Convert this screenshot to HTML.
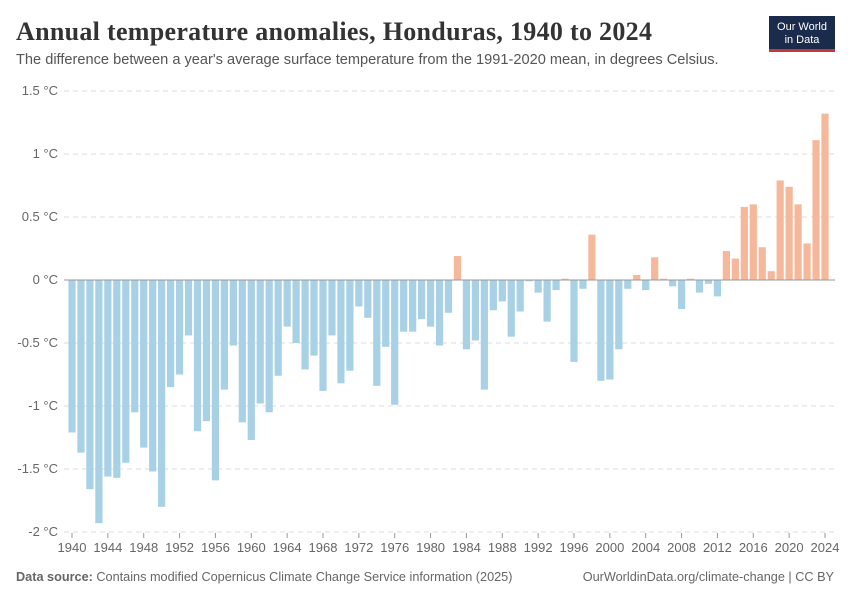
<!DOCTYPE html>
<html><head><meta charset="utf-8">
<style>
body{margin:0;background:#fff;font-family:"Liberation Sans",sans-serif;}
#wrap{position:relative;width:850px;height:600px;overflow:hidden;}
.title{position:absolute;left:16px;top:17px;font-family:"Liberation Serif",serif;font-size:26px;font-weight:bold;color:#333;letter-spacing:0.3px;}
.sub{position:absolute;left:16px;top:52px;font-size:14.6px;color:#555;}
.logo{position:absolute;left:769px;top:16px;width:66px;height:36px;background:#1a2b4c;color:#fff;font-size:11px;text-align:center;line-height:13px;padding-top:5px;box-sizing:border-box;border-bottom:3px solid #c4373a;}
.foot{position:absolute;top:570px;font-size:12.7px;color:#666;}
</style></head><body>
<div id="wrap">
<div class="title">Annual temperature anomalies, Honduras, 1940 to 2024</div>
<div class="sub">The difference between a year's average surface temperature from the 1991-2020 mean, in degrees Celsius.</div>
<div class="logo">Our World<br>in Data</div>
<svg id="chart" width="850" height="600" style="position:absolute;left:0;top:0"></svg>
<div class="foot" style="left:16px"><b>Data source:</b> Contains modified Copernicus Climate Change Service information (2025)</div>
<div class="foot" style="right:16px">OurWorldinData.org/climate-change | CC BY</div>
</div>
<script>
const startYear = 1940;
const values = [-1.21,-1.37,-1.66,-1.93,-1.56,-1.57,-1.45,-1.05,-1.33,-1.52,-1.80,-0.85,-0.75,-0.44,-1.20,-1.12,-1.59,-0.87,-0.52,-1.13,-1.27,-0.98,-1.05,-0.76,-0.37,-0.50,-0.71,-0.60,-0.88,-0.44,-0.82,-0.72,-0.21,-0.30,-0.84,-0.53,-0.99,-0.41,-0.41,-0.31,-0.37,-0.52,-0.26,0.19,-0.55,-0.48,-0.87,-0.24,-0.17,-0.45,-0.25,-0.01,-0.10,-0.33,-0.08,0.01,-0.65,-0.07,0.36,-0.80,-0.79,-0.55,-0.07,0.04,-0.08,0.18,0.01,-0.05,-0.23,0.01,-0.10,-0.03,-0.13,0.23,0.17,0.58,0.60,0.26,0.07,0.79,0.74,0.60,0.29,1.11,1.32];
const yTicks = [1.5,1,0.5,0,-0.5,-1,-1.5,-2];
const yTickLabels = ["1.5 °C","1 °C","0.5 °C","0 °C","-0.5 °C","-1 °C","-1.5 °C","-2 °C"];
const xTicks = [1940,1944,1948,1952,1956,1960,1964,1968,1972,1976,1980,1984,1988,1992,1996,2000,2004,2008,2012,2016,2020,2024];
const svg = document.getElementById('chart');
const NS = 'http://www.w3.org/2000/svg';
const y = v => 280 - v*126;
const x = yr => 72 + (yr-1940)*(825-72)/84;
function mk(tag, attrs){const e=document.createElementNS(NS,tag);for(const k in attrs)e.setAttribute(k,attrs[k]);svg.appendChild(e);return e;}
yTicks.forEach((t,i)=>{
  if(t!==0){const g=mk('line',{x1:64,x2:835,y1:y(t),y2:y(t),stroke:'#ddd','stroke-dasharray':'5,4'});
  
  }
  const l=mk('text',{x:58,y:y(t)+4,'text-anchor':'end','font-size':13,fill:'#666','font-family':'Liberation Sans, sans-serif'});
  l.textContent=yTickLabels[i];
  
  
});
values.forEach((v,i)=>{
  const yr=startYear+i;
  const r=mk('rect',{x:x(yr)-3.6,width:7.2,y:Math.min(y(v),y(0)),height:Math.abs(y(v)-y(0)),fill:v>=0?'#f6b89a':'#a8d1e6'});
  
  
});
const z=mk('line',{x1:64,x2:835,y1:y(0),y2:y(0),stroke:'#999','stroke-width':1});


xTicks.forEach(t=>{
  const tk=mk('line',{x1:x(t),x2:x(t),y1:533,y2:538,stroke:'#999'});
  
  
  const l=mk('text',{x:x(t),y:552,'text-anchor':'middle','font-size':13,fill:'#666','font-family':'Liberation Sans, sans-serif'});
  l.textContent=t;
  
  
});
</script>
</body></html>
